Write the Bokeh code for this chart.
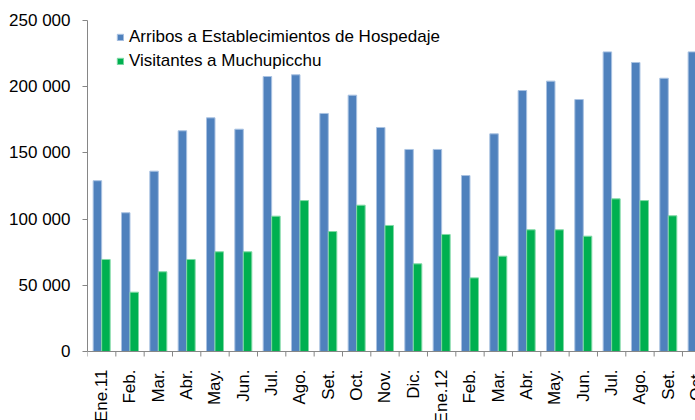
import numpy as np
from bokeh.plotting import figure
from bokeh.models import (Range1d, FixedTicker, ColumnDataSource, Legend,
                          LegendItem, Span)
from bokeh.core.properties import value
from bokeh.embed import file_html
from bokeh.resources import INLINE

# ---- data -------------------------------------------------------------
months = ["Ene.11", "Feb.", "Mar.", "Abr.", "May.", "Jun.", "Jul.", "Ago.",
          "Set.", "Oct.", "Nov.", "Dic.", "Ene.12", "Feb.", "Mar.", "Abr.",
          "May.", "Jun.", "Jul.", "Ago.", "Set.", "Oct."]
arribos = [129000, 104800, 136200, 166700, 176500, 167900, 207700, 209000,
           179800, 193600, 169200, 152600, 152600, 132900, 164400, 197100,
           204200, 190300, 226300, 218300, 206400, 226300]
visitantes = [69500, 44800, 60200, 69500, 75300, 75300, 102200, 114000,
              90600, 110500, 95200, 66200, 88400, 55600, 72000, 91900,
              91900, 87100, 115300, 114000, 102500, 110000]
series_names = ["Arribos a Establecimientos de Hospedaje",
                "Visitantes a Muchupicchu"]
y_ticks = [0, 50000, 100000, 150000, 200000, 250000]
y_tick_labels = ["0", "50 000", "100 000", "150 000", "200 000", "250 000"]

# ---- styling ----------------------------------------------------------
FONT = "Liberation Sans"
FS = "17px"
BLUE, BLUE_EDGE = "#4F81BD", "#A9C2E2"
GREEN, GREEN_EDGE = "#00B050", "#7FD9A5"
AXIS_COL = "#868686"

n = len(months)
centers = np.arange(n) + 0.5
boundaries = np.arange(n)

src = ColumnDataSource(dict(
    xb=centers - 0.15, xg=centers + 0.15, xc=centers,
    arribos=arribos, visitantes=visitantes, label=months,
    zero=[0] * n))
bsrc = ColumnDataSource(dict(x=boundaries, y=[0] * n))

p = figure(width=695, height=420, output_backend="svg", toolbar_location=None,
           x_axis_location=None,
           x_range=Range1d(0, 21.46), y_range=Range1d(-52115, 265106),
           min_border_left=87, min_border_right=0, min_border_top=0,
           min_border_bottom=0)
p.outline_line_color = None
p.xgrid.visible = False
p.ygrid.visible = False
p.background_fill_color = "white"
p.border_fill_color = "white"

rb = p.vbar(x="xb", top="arribos", width=0.3, source=src,
            fill_color=BLUE, line_color=BLUE_EDGE, line_width=1)
rg = p.vbar(x="xg", top="visitantes", width=0.3, source=src,
            fill_color=GREEN, line_color=GREEN_EDGE, line_width=1)

# category axis line and ticks
p.add_layout(Span(location=0, dimension="width", line_color=AXIS_COL,
                  line_width=1))
p.ray(x="x", y="y", length=5, length_units="screen", angle=-np.pi / 2,
      source=bsrc, line_color=AXIS_COL, line_width=1)

# category labels (clipped at the bottom like the original)
p.text(x="xc", y="zero", text="label", source=src, angle=np.pi / 2,
       text_align="right", text_baseline="middle", y_offset=18,
       text_font=value(FONT), text_font_size=FS, text_color="#000000")

# y axis
ya = p.yaxis[0]
ya.ticker = FixedTicker(ticks=y_ticks)
ya.major_label_overrides = {t: l for t, l in zip(y_ticks, y_tick_labels)}
ya.bounds = (0, 250000)
ya.axis_line_color = AXIS_COL
ya.major_tick_line_color = AXIS_COL
ya.major_tick_out = 5
ya.major_tick_in = 0
ya.minor_tick_out = 0
ya.minor_tick_in = 0
ya.major_label_standoff = 12
ya.major_label_text_font = FONT
ya.major_label_text_font_size = FS
ya.major_label_text_color = "#000000"

legend = Legend(items=[LegendItem(label=series_names[0], renderers=[rb]),
                       LegendItem(label=series_names[1], renderers=[rg])],
                location=(29, 349), margin=0, padding=0, spacing=4,
                glyph_width=8, glyph_height=8, label_height=20,
                label_standoff=5, label_text_font=FONT,
                label_text_font_size=FS, label_text_color="#000000",
                border_line_alpha=0, background_fill_alpha=0)
p.add_layout(legend)

open("out.html", "w").write(file_html(p, INLINE))
